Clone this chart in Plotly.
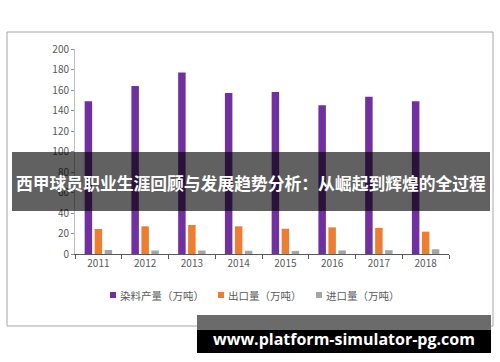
import plotly.graph_objects as go

years = ["2011", "2012", "2013", "2014", "2015", "2016", "2017", "2018"]
dye_output = [149, 164, 177, 157, 158, 145, 153.5, 149]
exports = [24.4, 27, 28.3, 27, 24.7, 26, 25.4, 21.8]
imports = [3.9, 3.4, 3.4, 3.2, 3.0, 3.5, 3.7, 4.6]
series_names = ["染料产量（万吨）", "出口量（万吨）", "进口量（万吨）"]
yticks = [0, 20, 40, 60, 80, 100, 120, 140, 160, 180, 200]
title_text = "西甲球员职业生涯回顾与发展趋势分析：从崛起到辉煌的全过程"
watermark = "www.platform-simulator-pg.com"

W, H = 500, 362
L, R, T, B = 75, 51, 49, 108
pw, ph = W - L - R, H - T - B

def px(x):
    return (x - L) / pw

def py(y):
    return (H - B - y) / ph

fig = go.Figure()
colors = ["#7030A0", "#ED7D31", "#A5A5A5"]
for name, vals, c in zip(series_names, [dye_output, exports, imports], colors):
    fig.add_trace(go.Bar(x=years, y=vals, name=name, marker_color=c,
                         marker_line_width=0))

fig.update_layout(
    width=W, height=H,
    margin=dict(l=L, r=R, t=T, b=B, autoexpand=False),
    paper_bgcolor="white", plot_bgcolor="white",
    barmode="group", bargap=0.36, bargroupgap=0.25,
    font=dict(family="Noto Sans CJK SC, Noto Sans", color="#595959", size=10),
    showlegend=False,
    xaxis=dict(showgrid=False, showline=True, linecolor="#595959", linewidth=1,
               ticks="outside", tickson="boundaries", ticklen=4, tickcolor="#595959",
               tickfont=dict(size=10, color="#595959"), automargin=False),
    yaxis=dict(range=[0, 200], tickvals=yticks, showgrid=False, showline=True,
               linecolor="#bfbfbf", linewidth=1, ticks="outside", ticklen=3,
               tickcolor="#8c8c8c", zeroline=False, automargin=False,
               tickfont=dict(size=10, color="#595959")),
)

shapes = []
# outer frame
shapes.append(dict(type="rect", xref="paper", yref="paper",
                   x0=px(7), x1=px(493), y0=py(326), y1=py(32),
                   line=dict(color="#a6a6a6", width=1), fillcolor="rgba(0,0,0,0)", layer="below"))
# manual legend
leg_sq_x = [110, 218, 316]
leg_tx_x = [118, 226, 324]
for sx, tx, name, c in zip(leg_sq_x, leg_tx_x, series_names, colors):
    shapes.append(dict(type="rect", xref="paper", yref="paper",
                       x0=px(sx), x1=px(sx + 6), y0=py(298), y1=py(292),
                       line=dict(width=0), fillcolor=c, layer="above"))
    fig.add_annotation(text=name, xref="paper", yref="paper", x=px(tx), y=py(295),
                       showarrow=False, xanchor="left", yanchor="middle",
                       font=dict(family="Noto Sans CJK SC", size=10.5, color="#595959"))
# banner
shapes.append(dict(type="rect", xref="paper", yref="paper",
                   x0=px(12), x1=px(490), y0=py(211), y1=py(152),
                   line=dict(width=0), fillcolor="rgba(0,0,0,0.62)", layer="above"))
# watermark box
shapes.append(dict(type="rect", xref="paper", yref="paper",
                   x0=px(197), x1=px(491), y0=py(330), y1=py(315),
                   line=dict(width=0), fillcolor="#6b6b6b", layer="above"))
shapes.append(dict(type="rect", xref="paper", yref="paper",
                   x0=px(197), x1=px(491), y0=py(353), y1=py(330),
                   line=dict(width=0), fillcolor="#000000", layer="above"))
fig.update_layout(shapes=shapes)

fig.add_annotation(text=title_text, xref="paper", yref="paper", x=px(251), y=py(183),
                   showarrow=False, xanchor="center", yanchor="middle",
                   font=dict(family="Noto Sans CJK SC", size=16.8, color="white", weight="bold"))
fig.add_annotation(text=watermark, xref="paper", yref="paper", x=px(343.5), y=py(339),
                   showarrow=False, xanchor="center", yanchor="middle",
                   font=dict(family="Open Sans", size=16, color="white", weight="bold"))

fig.write_html("out.html", config={"displayModeBar": False},
               post_script="document.body.style.margin='0';document.body.style.overflow='hidden';")
